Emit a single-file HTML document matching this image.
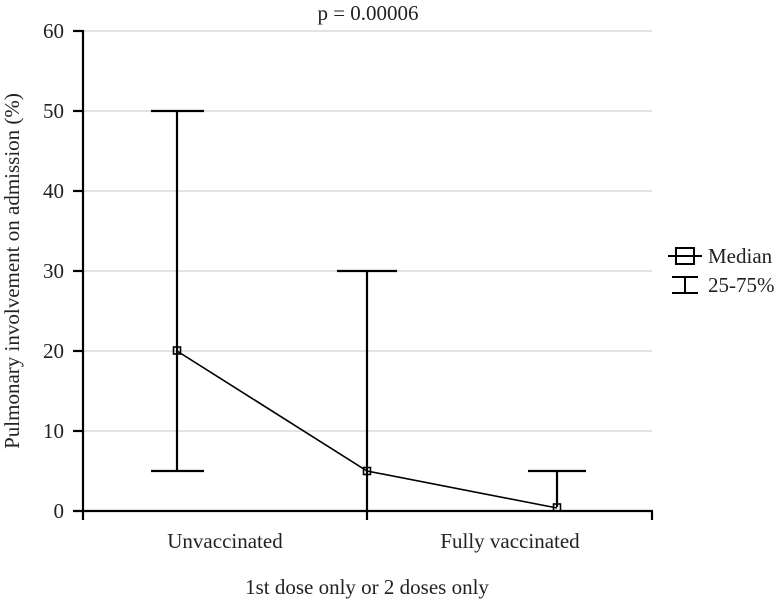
<!DOCTYPE html>
<html><head><meta charset="utf-8"><style>
html,body{margin:0;padding:0;background:#fff;}
svg{display:block;}
text{font-family:"Liberation Serif",serif;fill:#222;}
</style></head><body>
<svg width="782" height="604" viewBox="0 0 782 604" xmlns="http://www.w3.org/2000/svg">
<g stroke="#e3e3e3" stroke-width="2">
<line x1="84" y1="31" x2="652" y2="31"/>
<line x1="84" y1="111" x2="652" y2="111"/>
<line x1="84" y1="191" x2="652" y2="191"/>
<line x1="84" y1="271" x2="652" y2="271"/>
<line x1="84" y1="351" x2="652" y2="351"/>
<line x1="84" y1="431" x2="652" y2="431"/>
</g>
<g stroke="#000" stroke-width="2.2" fill="none">
<line x1="83" y1="30" x2="83" y2="520"/>
<line x1="73" y1="511" x2="653" y2="511"/>
<line x1="73" y1="31" x2="83" y2="31"/>
<line x1="73" y1="111" x2="83" y2="111"/>
<line x1="73" y1="191" x2="83" y2="191"/>
<line x1="73" y1="271" x2="83" y2="271"/>
<line x1="73" y1="351" x2="83" y2="351"/>
<line x1="73" y1="431" x2="83" y2="431"/>
<line x1="367" y1="511" x2="367" y2="520"/>
<line x1="652" y1="511" x2="652" y2="520"/>
<!-- error bars -->
<line x1="177" y1="111" x2="177" y2="471"/>
<line x1="151" y1="111" x2="204" y2="111"/>
<line x1="151" y1="471" x2="204" y2="471"/>
<line x1="367" y1="271" x2="367" y2="511"/>
<line x1="337" y1="271" x2="397" y2="271"/>
<line x1="557" y1="471" x2="557" y2="507"/>
<line x1="528" y1="471" x2="586" y2="471"/>
</g>
<polyline points="177,351 367,471 557,508" fill="none" stroke="#000" stroke-width="1.6"/>
<g fill="none" stroke="#000" stroke-width="1.6">
<rect x="173.5" y="347" width="7" height="7"/>
<rect x="363.5" y="467.5" width="7" height="7"/>
<rect x="553.5" y="504" width="7" height="7"/>
</g>
<g font-size="21" text-anchor="end">
<text x="64" y="38">60</text>
<text x="64" y="118">50</text>
<text x="64" y="198">40</text>
<text x="64" y="278">30</text>
<text x="64" y="358">20</text>
<text x="64" y="438">10</text>
<text x="64" y="518">0</text>
</g>
<text x="368" y="20" font-size="21" text-anchor="middle">p = 0.00006</text>
<text x="225" y="548" font-size="21" text-anchor="middle">Unvaccinated</text>
<text x="510" y="548" font-size="21" text-anchor="middle">Fully vaccinated</text>
<text x="367" y="594" font-size="21" text-anchor="middle">1st dose only or 2 doses only</text>
<text transform="translate(19,271) rotate(-90)" font-size="21" text-anchor="middle">Pulmonary involvement on admission (%)</text>
<!-- legend -->
<g stroke="#000" stroke-width="2" fill="none">
<line x1="668" y1="256" x2="702" y2="256"/>
<rect x="676" y="248" width="18" height="16"/>
<line x1="685" y1="277" x2="685" y2="293"/>
<line x1="672" y1="277" x2="698" y2="277"/>
<line x1="672" y1="293" x2="698" y2="293"/>
</g>
<text x="708" y="263" font-size="21">Median</text>
<text x="708" y="292" font-size="21">25-75%</text>
</svg>
</body></html>
